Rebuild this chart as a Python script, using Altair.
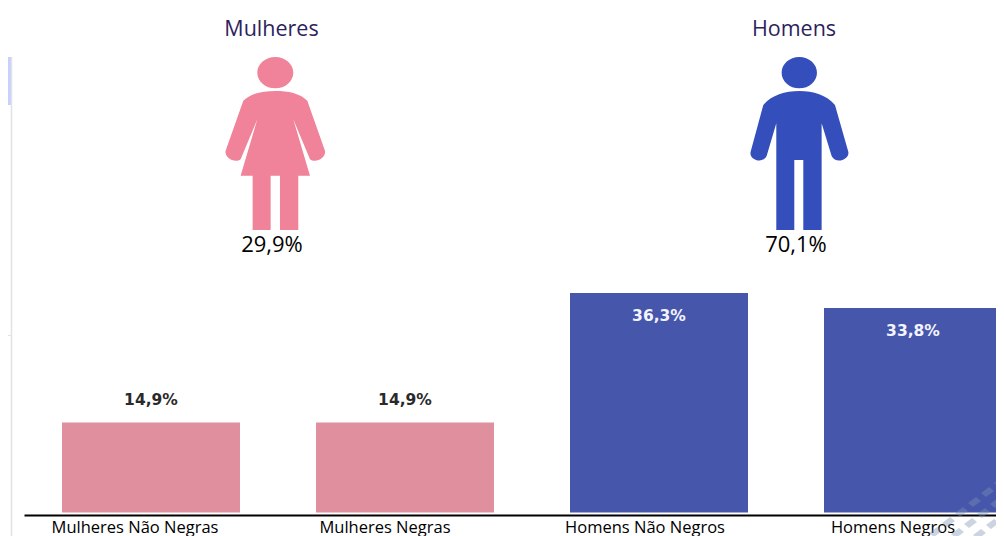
import altair as alt
import pandas as pd

categories = ["Mulheres Não Negras", "Mulheres Negras", "Homens Não Negros", "Homens Negros"]
values = [14.9, 14.9, 36.3, 33.8]
sexes = ["Mulheres", "Mulheres", "Homens", "Homens"]
groups = ["Mulheres", "Homens"]
shares = [29.9, 70.1]

PINK_BAR, BLUE_BAR = "#E08F9F", "#4656AB"
PINK_ICON, BLUE_ICON = "#F08399", "#344EBB"
TITLE = "#2E1F5E"
FONT = "Open Sans"


def fmt(v):
    return f"{v:.1f}".replace(".", ",") + "%"


bars = pd.DataFrame({"cat": categories, "val": values, "sex": sexes,
                     "label": [fmt(v) for v in values]})
grp = pd.DataFrame({"group": groups, "share": shares, "label": [fmt(v) for v in shares]})


def ellipse(cx, cy, rx, ry):
    k = 0.5523
    return [("M", cx + rx, cy),
            ("C", cx + rx, cy + k * ry, cx + k * rx, cy + ry, cx, cy + ry),
            ("C", cx - k * rx, cy + ry, cx - rx, cy + k * ry, cx - rx, cy),
            ("C", cx - rx, cy - k * ry, cx - k * rx, cy - ry, cx, cy - ry),
            ("C", cx + k * rx, cy - ry, cx + rx, cy - k * ry, cx + rx, cy),
            ("Z",)]


def to_path(cmds, cx, cy):
    # outline drawn in 3x zoom units around the icon centre; unit symbol box = 100 px
    out = []
    for c in cmds:
        nums = []
        for i, n in enumerate(c[1:]):
            o = cx if i % 2 == 0 else cy
            nums.append(f"{(n - o) / 300:.4f}")
        out.append(" ".join([c[0]] + nums))
    return " ".join(out)


woman = ellipse(226, 218, 54, 47) + [
    ("M", 226, 273), ("C", 265, 273, 300, 280, 322, 302), ("L", 375, 452),
    ("C", 380, 470, 350, 492, 330, 478), ("L", 280, 358), ("L", 330, 527), ("L", 295, 527),
    ("L", 295, 690), ("L", 240, 690), ("L", 240, 527), ("L", 212, 527), ("L", 212, 690),
    ("L", 158, 690), ("L", 158, 527), ("L", 122, 527), ("L", 172, 358), ("L", 122, 478),
    ("C", 102, 492, 72, 470, 77, 452), ("L", 130, 302), ("C", 152, 280, 187, 273, 226, 273), ("Z",),
]
man = ellipse(208, 218, 53, 47) + [
    ("M", 208, 273), ("C", 250, 273, 290, 285, 315, 315), ("L", 355, 455),
    ("C", 360, 478, 318, 494, 305, 468), ("L", 275, 370), ("L", 275, 690), ("L", 220, 690),
    ("L", 220, 480), ("L", 193, 480), ("L", 193, 690), ("L", 139, 690), ("L", 139, 370),
    ("L", 110, 468), ("C", 97, 494, 56, 478, 62, 455), ("L", 100, 315),
    ("C", 125, 285, 166, 273, 208, 273), ("Z",),
]
WOMAN_PATH = to_path(woman, 226, 430)
MAN_PATH = to_path(man, 208, 430)

# pale lattice in the bottom-right corner (the source's watermark)
lattice = []
for i in range(-3, 4):
    for j in range(-1, 2):
        cx, cy = 13 * i + 9 * j, -10 * i + 11 * j
        lattice += [("M", cx - 6, cy + 1), ("L", cx + 2, cy - 5), ("L", cx + 7, cy - 1), ("L", cx - 1, cy + 5), ("Z",)]
LATTICE_PATH = " ".join(
    " ".join([c[0]] + [f"{n / 100:.3f}" for n in c[1:]]) for c in lattice
)

band_scale = alt.Scale(domain=categories, range=[16, 1032], paddingInner=0.299, paddingOuter=0.1495)
value_scale = alt.Scale(domain=[0, 36.3], range=[504.5, 285], nice=False, zero=True)

x_bar = alt.X("cat:N", sort=categories, title=None, scale=band_scale,
              axis=alt.Axis(orient="bottom", offset=-21, domainColor="black", domainWidth=2, ticks=False, labelAngle=0,
                            labelFont=FONT, labelFontSize=16.5, labelColor="black", labelPadding=4,
                            labelBaseline="top", labelLimit=0, labelOverlap=False, grid=False,
                            labelOffset={"condition": [
                                {"test": "datum.value == 'Mulheres Não Negras'", "value": -16},
                                {"test": "datum.value == 'Homens Não Negros'", "value": -14},
                            ], "value": -20}))
y_bar = alt.Y("val:Q", title=None, axis=None, scale=value_scale)

bar_layer = alt.Chart(bars).mark_bar(size=178).encode(
    x=x_bar, y=y_bar,
    color=alt.Color("sex:N", legend=None,
                    scale=alt.Scale(domain=groups, range=[PINK_BAR, BLUE_BAR])))


def value_labels(sex, dy, colour):
    return alt.Chart(bars[bars.sex == sex]).mark_text(
        dy=dy, font="DejaVu Sans", fontSize=15.5, fontWeight="bold", color=colour, baseline="middle"
    ).encode(x=alt.X("cat:N", sort=categories, title=None, axis=None, scale=band_scale),
             y=alt.Y("val:Q", axis=None, title=None, scale=value_scale),
             text="label:N")


x_grp = alt.X("group:N", sort=groups, axis=None, title=None,
              scale=alt.Scale(domain=groups, range=[2.25, 1047.25], paddingInner=0, paddingOuter=0))

titles = alt.Chart(grp).mark_text(font=FONT, fontSize=21.5, color=TITLE, baseline="middle").encode(
    x=x_grp, y=alt.value(22), text="group:N")


def share_label(name, dx):
    return alt.Chart(grp[grp.group == name]).mark_text(
        font=FONT, fontSize=22, color="black", baseline="middle", dx=dx
    ).encode(x=x_grp, y=alt.value(237), text="label:N")


def icon(name, path, colour, off):
    return alt.Chart(grp[grp.group == name]).mark_point(
        shape=path, size=40000, filled=True, opacity=1, color=colour, strokeWidth=0, xOffset=off
    ).encode(x=x_grp, y=alt.value(135.3))


side = pd.DataFrame({"k": ["a"]})
sidebar = [
    alt.Chart(side).mark_rect(color="#C8D0FF").encode(x=alt.value(0), x2=alt.value(4), y=alt.value(49), y2=alt.value(97)),
    alt.Chart(side).mark_rule(color="#E2E2E2", strokeWidth=1.5).encode(x=alt.value(3.5), y=alt.value(49), y2=alt.value(528)),
    alt.Chart(side).mark_rule(color="#E2E2E2", strokeWidth=1).encode(x=alt.value(0), x2=alt.value(4), y=alt.value(327.5)),
]
watermark = alt.Chart(side).mark_point(
    shape=LATTICE_PATH, size=40000, filled=True, opacity=0.4, color="#7F93B5", strokeWidth=0
).encode(x=alt.value(975), y=alt.value(505))

chart = alt.layer(
    *sidebar,
    bar_layer,
    value_labels("Mulheres", -22.5, "#2A2A2A"),
    value_labels("Homens", 22.5, "#F2F4FF"),
    titles,
    share_label("Mulheres", 0.5),
    share_label("Homens", 2),
    icon("Mulheres", WOMAN_PATH, PINK_ICON, 3.8),
    icon("Homens", MAN_PATH, BLUE_ICON, 5.3),
    watermark,
).resolve_scale(x="independent", y="shared").properties(
    width=988, height=528, padding=0, autosize=alt.AutoSizeParams(type="none"),
    background="white",
).configure_view(stroke=None)

chart.save("out.html", embed_options={"renderer": "svg", "actions": False})
